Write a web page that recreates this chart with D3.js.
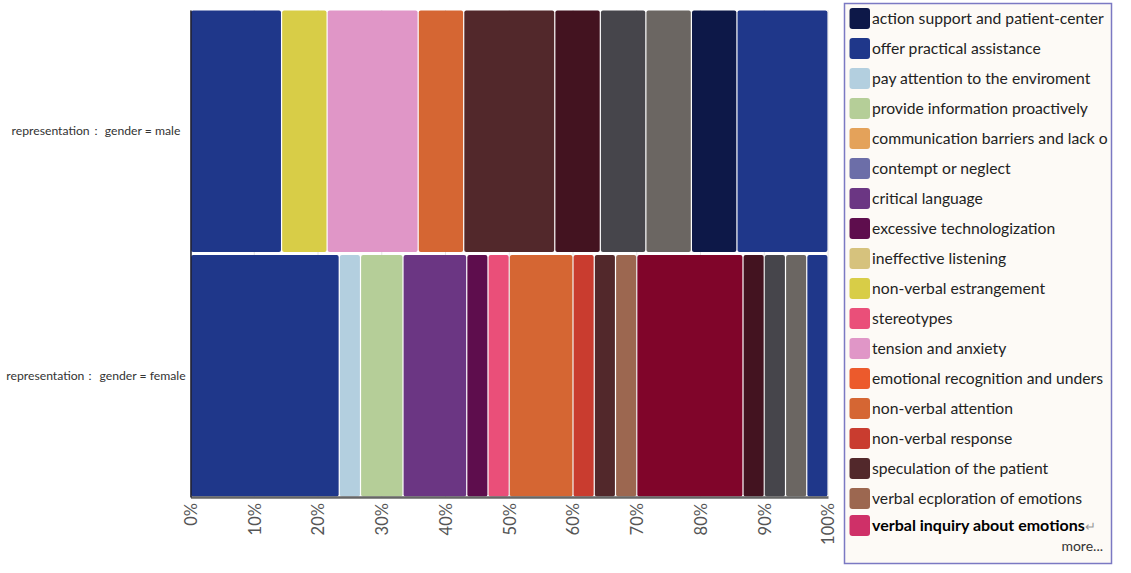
<!DOCTYPE html>
<html>
<head>
<meta charset="utf-8">
<script src="https://cdn.jsdelivr.net/npm/d3@7"></script>
<style>
  html, body { margin: 0; padding: 0; background: #ffffff; }
  svg { display: block; font-family: Lato, "Open Sans", sans-serif; }
</style>
</head>
<body>
<svg id="chart" width="1131" height="573"></svg>
<script>
// ---- data ----
const categories = [
  "action support and patient-centered care",
  "offer practical assistance",
  "pay attention to the enviroment",
  "provide information proactively",
  "communication barriers and lack of feedback",
  "contempt or neglect",
  "critical language",
  "excessive technologization",
  "ineffective listening",
  "non-verbal estrangement",
  "stereotypes",
  "tension and anxiety",
  "emotional recognition and understanding",
  "non-verbal attention",
  "non-verbal response",
  "speculation of the patient",
  "verbal ecploration of emotions",
  "verbal inquiry about emotions",
  "hidden category 19",
  "hidden category 20",
  "hidden category 21",
  "hidden category 22",
  "hidden category 23",
  "hidden category 24"
];
const palette = [
  "#0d1848", "#1f378a", "#b3cfdf", "#b5ce98", "#e4a25a", "#6c6ea8",
  "#6b3683", "#5e0d4d", "#d6c27d", "#d8cd47", "#ea4f79", "#e096c7",
  "#ec5a2c", "#d56633", "#c93c2f", "#52282b", "#9c6750", "#cf3068",
  "#80052a", "#431320", "#46454b", "#6b6662"
];
const groups = ["representation\uff1a gender = male", "representation\uff1a gender = female"];
const maleCounts   = [0,2,0,0,0,0,0,0,0,1,0,2,0,1,0,2,0,0,0,1,1,1,1,2];
const femaleCounts = [0,7,1,2,0,0,3,1,0,0,1,0,0,3,1,1,1,0,5,1,1,1,0,1];
const tickValues = [0,0.1,0.2,0.3,0.4,0.5,0.6,0.7,0.8,0.9,1];
const legendShown = 18;

// ---- build ----
const svg = d3.select("#chart");
const color = d3.scaleOrdinal().domain(categories).range(palette);
const x = d3.scaleLinear().domain([0, 1]).range([190.5, 828]);
const y = d3.scaleBand().domain(groups).range([10, 497]).paddingInner(0.008);

const seriesByGroup = [maleCounts, femaleCounts].map((counts, gi) => {
  const total = d3.sum(counts);
  let cum = 0;
  const segs = [];
  counts.forEach((c, i) => {
    if (c > 0) {
      segs.push({ group: groups[gi], cat: categories[i], x0: cum / total, x1: (cum + c) / total });
      cum += c;
    }
  });
  return segs;
});

// gridlines
svg.append("g").selectAll("line").data(tickValues).join("line")
  .attr("x1", d => x(d)).attr("x2", d => x(d))
  .attr("y1", 10).attr("y2", 497)
  .attr("stroke", "#e4e4e4").attr("stroke-width", 1);

// bars
const barG = svg.append("g");
seriesByGroup.forEach(segs => {
  barG.selectAll(null).data(segs).join("rect")
    .attr("x", d => x(d.x0) + 0.6)
    .attr("width", d => Math.max(0, x(d.x1) - x(d.x0) - 1.2))
    .attr("y", d => y(d.group) + 0.5)
    .attr("height", y.bandwidth() - 1)
    .attr("rx", 2).attr("ry", 2)
    .attr("fill", d => color(d.cat));
});

// x axis
const xAxis = d3.axisBottom(x).tickValues(tickValues).tickFormat(d3.format(".0%")).tickSize(0);
const gx = svg.append("g").attr("transform", "translate(0,497)").call(xAxis);
gx.select(".domain").attr("stroke", "#666").attr("stroke-width", 2.5);
gx.selectAll("text")
  .attr("transform", "rotate(-90)")
  .attr("x", -6).attr("y", 0).attr("dy", "0.35em")
  .attr("text-anchor", "end")
  .attr("fill", "#555")
  .style("font-family", "Lato, sans-serif")
  .style("font-size", "16.5px");

// y axis
const yAxis = d3.axisLeft(y).tickSize(0).tickPadding(0);
const gy = svg.append("g").attr("transform", "translate(190.5,0)").call(yAxis);
gy.select(".domain").attr("stroke", "#1a1a2a").attr("stroke-width", 1.5);
gy.selectAll("text")
  .attr("x", 96 - 190.5)
  .attr("text-anchor", "middle")
  .attr("fill", "#333")
  .style("font-family", "Lato, sans-serif")
  .style("font-size", "12.2px");

// legend
const lg = svg.append("g");
lg.append("rect")
  .attr("x", 844.5).attr("y", 3.5).attr("width", 267).attr("height", 560)
  .attr("fill", "#fdfaf6").attr("stroke", "#7b79c3").attr("stroke-width", 1.5);
const items = categories.slice(0, legendShown);
const rowY = i => (i === legendShown - 1 ? 15 + i * 30 : 18 + i * 30);
const row = lg.append("g")
  .selectAll("g").data(items).join("g")
  .attr("transform", (d, i) => `translate(0,${rowY(i)})`);
row.append("rect")
  .attr("x", 849.5).attr("y", -10).attr("width", 20.5).attr("height", 21)
  .attr("rx", 3).attr("fill", d => color(d));
const maxW = 236;
row.append("text")
  .attr("x", 872).attr("y", 5.5)
  .attr("fill", (d, i) => i === legendShown - 1 ? "#000" : "#222")
  .style("font-size", (d, i) => i === legendShown - 1 ? "16px" : "15.7px")
  .style("font-weight", (d, i) => i === legendShown - 1 ? "700" : "400")
  .text(d => d)
  .each(function (d, i) {
    if (i === legendShown - 1) return;
    const t = d3.select(this);
    let s = d;
    while (this.getComputedTextLength() > maxW && s.length > 1) {
      s = s.slice(0, -1);
      t.text(s);
    }
  })
  .filter((d, i) => i === legendShown - 1)
  .append("tspan").attr("fill", "#999").style("font-weight", "400").style("font-size", "13px").text("\u21b5");
lg.append("text")
  .attr("x", 1103).attr("y", 551).attr("text-anchor", "end")
  .attr("fill", "#333").style("font-size", "14px").text("more...");
</script>
</body>
</html>
